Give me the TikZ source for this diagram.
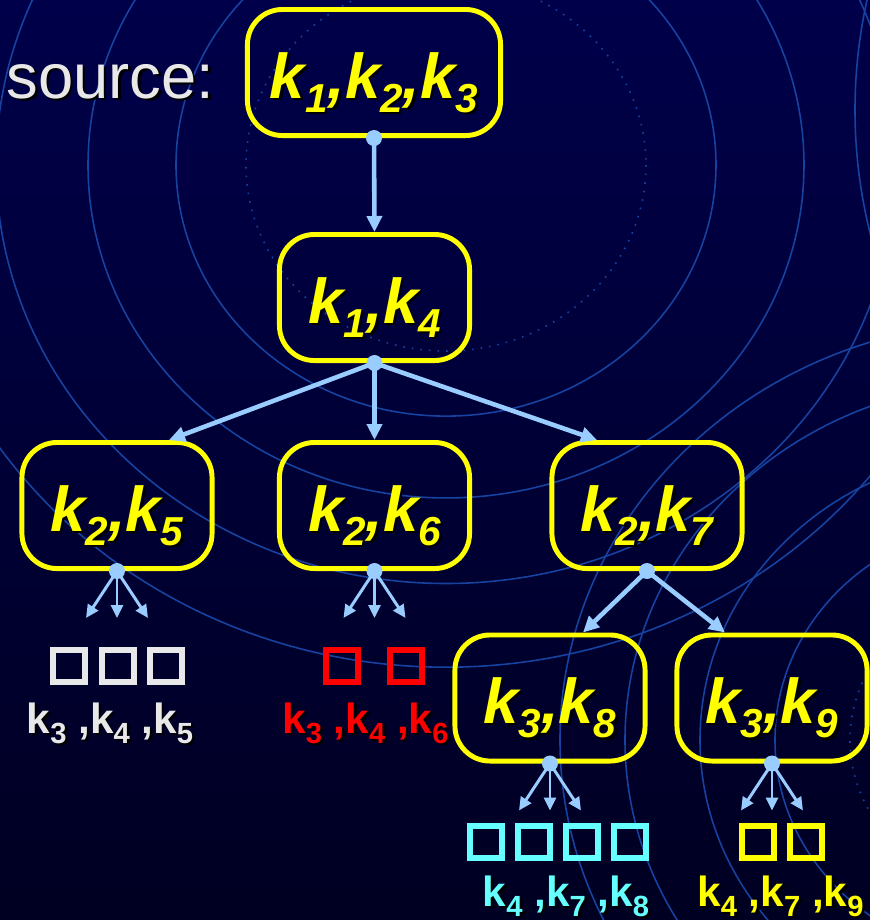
\documentclass[tikz,border=0pt]{standalone}
\usepackage{fontspec}
\setmainfont{Liberation Sans}
\usetikzlibrary{arrows.meta}
\usetikzlibrary{calc}

\definecolor{keyyellow}{RGB}{255,255,0}
\definecolor{linkblue}{RGB}{153,204,255}
\definecolor{ringblue}{RGB}{22,66,160}
\definecolor{paleink}{RGB}{232,232,232}
\definecolor{redink}{RGB}{255,0,0}
\definecolor{cyanink}{RGB}{102,255,255}
\definecolor{skytop}{RGB}{0,0,74}
\definecolor{skymid}{RGB}{0,0,96}
\definecolor{skybot}{RGB}{0,0,34}

% text with a dark drop shadow
\newcommand{\dropped}[1]{\makebox[0pt][l]{\kern0.7pt\raisebox{-0.7pt}{\color{black}#1}}#1}
% keys with a lowered index, big (in boxes) and small (under the slots)
\newcommand{\bigk}[1]{k\raisebox{-4pt}{\fontsize{11.5pt}{12pt}\selectfont#1}}
\newcommand{\smallk}[1]{k\raisebox{-2.85pt}{\fontsize{8.3pt}{9pt}\selectfont#1}}

\tikzset{
    keybox/.style={draw=keyyellow, line width=1.4pt, rounded corners=0.35cm,
        minimum width=1.9cm, minimum height=1.26cm, inner sep=0pt,
        text height=0.58cm, text depth=0.07cm, text=keyyellow,
        font=\fontsize{18pt}{20pt}\selectfont\bfseries\itshape},
    link/.style={linkblue, line width=1.3pt, -{Triangle[length=0.16cm, width=0.15cm]}},
    fan/.style={linkblue, line width=0.85pt, -{Triangle[length=0.13cm, width=0.12cm]}},
    slot/.style={draw=#1, line width=1.6pt, minimum size=0.315cm, inner sep=0pt},
    tag/.style={anchor=base, inner sep=0pt, text=#1,
        font=\fontsize{12pt}{14pt}\selectfont\bfseries},
    ring/.style={draw=ringblue, line width=0.45pt}
}

\begin{document}
\begin{tikzpicture}[x=0.01cm, y=-0.01cm]
            % backdrop
            \shade[top color=skytop, middle color=skymid, bottom color=skybot] (0,0) rectangle (870,920);
            \useasboundingbox (0,0) rectangle (870,920);
            \begin{scope}
                \clip (0,0) rectangle (870,920);
                \begin{scope}[shift={(446,165)}, yscale=0.93]
                    \draw[ring, dotted] (0,0) circle (200);
                    \foreach \r in {270,358,450,540}
                        \draw[ring] (0,0) circle (\r);
                \end{scope}
                \begin{scope}[shift={(1010,740)}, yscale=0.93]
                    \draw[ring, dotted] (0,0) circle (160);
                    \foreach \r in {235,310,385,450}
                        \draw[ring] (0,0) circle (\r);
                \end{scope}
                \draw[ring] (1360,110) circle (505);
            \end{scope}

            % key boxes
            \node[keybox, minimum width=2.53cm] (root) at (374,72.5) {\dropped{\bigk{1},\bigk{2},\bigk{3}}};
            \node[keybox] (k14) at (374.5,297.5) {\dropped{\bigk{1},\bigk{4}}};
            \node[keybox] (k25) at (117,505.5) {\dropped{\bigk{2},\bigk{5}}};
            \node[keybox] (k26) at (374.5,505.5) {\dropped{\bigk{2},\bigk{6}}};
            \node[keybox] (k27) at (647,505.5) {\dropped{\bigk{2},\bigk{7}}};
            \node[keybox] (k38) at (550,698) {\dropped{\bigk{3},\bigk{8}}};
            \node[keybox] (k39) at (772,698) {\dropped{\bigk{3},\bigk{9}}};
            \node[anchor=base east, inner sep=0pt, text=paleink, font=\fontsize{18pt}{20pt}\selectfont]
                (source) at ($(root.base west)+(-30,0)$) {\dropped{source:}};

            % links between boxes
            \draw[link] (root.south) -- (k14.north);
            \draw[link] (k14.south) -- ($(k25.north)+(52,0)$);
            \draw[link] (k14.south) -- (k26.north);
            \draw[link] (k14.south) -- ($(k27.north)+(-50,0)$);
            \draw[link] (k27.south) -- ($(k38.north)+(33,0)$);
            \draw[link] (k27.south) -- ($(k39.north)+(-47,0)$);
            \foreach \parent in {k25,k26,k38,k39}
                \foreach \dx in {-31,0,31}
                    \draw[fan] (\parent.south) -- ($(\parent.south)+(\dx,47)$);
            \foreach \parent in {root,k14,k25,k26,k27,k38,k39}
                \fill[linkblue] (\parent.south) circle (8);

            % slots and their keys
            \foreach \x [count=\i] in {69,118,166}
                \node[slot=paleink] (w\i) at (\x,666) {};
            \foreach \x [count=\i] in {342,406}
                \node[slot=redink] (r\i) at (\x,666) {};
            \foreach \x [count=\i] in {486,534,582,630}
                \node[slot=cyanink] (c\i) at (\x,842) {};
            \foreach \x [count=\i] in {758,806}
                \node[slot=keyyellow] (y\i) at (\x,842) {};
            \node[tag=paleink] (wtag) at (110,733) {\dropped{\smallk{3} ,\smallk{4} ,\smallk{5}}};
            \node[tag=redink] (rtag) at (365.5,733) {\dropped{\smallk{3} ,\smallk{4} ,\smallk{6}}};
            \node[tag=cyanink] (ctag) at (566,906) {\dropped{\smallk{4} ,\smallk{7} ,\smallk{8}}};
            \node[tag=keyyellow] (ytag) at (780.5,906) {\dropped{\smallk{4} ,\smallk{7} ,\smallk{9}}};
\end{tikzpicture}
\end{document}
